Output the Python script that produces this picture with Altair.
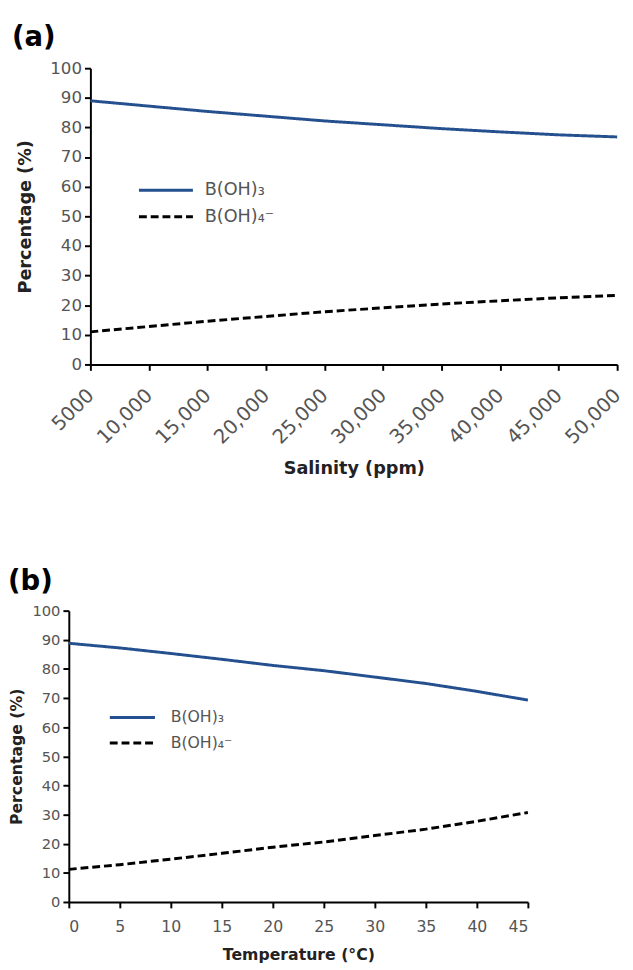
import altair as alt
import pandas as pd

# ---- data ----
salinity = [5000, 10000, 15000, 20000, 25000, 30000, 35000, 40000, 45000, 50000]
boh3_salinity = [89.0, 87.2, 85.4, 83.8, 82.2, 80.9, 79.6, 78.5, 77.5, 76.8]
boh4_salinity = [11.0, 12.8, 14.6, 16.2, 17.8, 19.1, 20.4, 21.5, 22.5, 23.3]

temperature = [0, 5, 10, 15, 20, 25, 30, 35, 40, 45]
boh3_temperature = [88.8, 87.2, 85.3, 83.3, 81.2, 79.4, 77.2, 75.0, 72.3, 69.3]
boh4_temperature = [11.2, 12.8, 14.7, 16.7, 18.8, 20.6, 22.8, 25.0, 27.7, 30.7]

species = ["B(OH)₃", "B(OH)₄⁻"]
y_ticks = list(range(0, 101, 10))

FONT = "DejaVu Sans"
BLUE = "#24508f"
LABEL_GREY = "#555555"
LINE_SYMBOL = "M-2.5,0L2.5,0"


def make_df(xs, s3, s4):
    return pd.DataFrame({
        "x": list(xs) + list(xs),
        "pct": list(s3) + list(s4),
        "species": [species[0]] * len(xs) + [species[1]] * len(xs),
    })


def panel(df, xs, x_title, x_axis_extra, width, height, inset, fs_ylabel, fs_title,
          y_title_pad, x_title_pad, legend_x, legend_y, sym_size, row_pad,
          label_offset, fs_legend, tag, tag_dx):
    legend = alt.Legend(
        title=None, orient="none", legendX=legend_x, legendY=legend_y,
        symbolType=LINE_SYMBOL, symbolSize=sym_size, symbolStrokeWidth=3,
        labelFont=FONT, labelFontSize=fs_legend, labelColor=LABEL_GREY,
        labelOffset=label_offset, rowPadding=row_pad,
    )
    y_axis_extra = {"offset": -inset} if inset else {}
    base = alt.Chart(df).mark_line(strokeWidth=3).encode(
        x=alt.X("x:Q",
                scale=alt.Scale(domain=[xs[0], xs[-1]], nice=False, zero=False,
                                range=[inset, width + inset]),
                axis=alt.Axis(title=x_title, values=xs, titlePadding=x_title_pad,
                              titleFontSize=fs_title, labelOverlap=False,
                              **x_axis_extra)),
        y=alt.Y("pct:Q",
                scale=alt.Scale(domain=[0, 100], nice=False),
                axis=alt.Axis(title="Percentage (%)", values=y_ticks,
                              titlePadding=y_title_pad, titleFontSize=fs_title,
                              labelFontSize=fs_ylabel, **y_axis_extra)),
        color=alt.Color("species:N",
                        scale=alt.Scale(domain=species, range=[BLUE, "black"]),
                        legend=legend),
        strokeDash=alt.StrokeDash("species:N",
                                  scale=alt.Scale(domain=species, range=[[1, 0], [8, 4]]),
                                  legend=legend),
    ).properties(
        width=width + inset, height=height,
        title=alt.TitleParams(text=tag, anchor="start", frame="group", dx=tag_dx,
                              offset=8, fontSize=28, fontWeight="bold",
                              font=FONT, color="black"),
    ).resolve_legend(color="independent", strokeDash="independent")
    return base


chart_a = panel(
    make_df(salinity, boh3_salinity, boh4_salinity), salinity, "Salinity (ppm)",
    dict(labelAngle=-45, labelAlign="right", labelBaseline="middle",
         labelFontSize=20, labelPadding=22,
         labelExpr="datum.value == 5000 ? '5000' : format(datum.value, ',')"),
    537, 302, 22, 17, 18, 16, 13, 86.5, 112, 484, 5, 27, 18, "(a)", -58,
)

chart_b = panel(
    make_df(temperature, boh3_temperature, boh4_temperature), temperature,
    "Temperature (°C)", dict(labelAngle=0, labelFontSize=16, labelPadding=11),
    468, 297, 0, 15, 16, 8, 13, 53.8, 98, 339, 7, 28, 16, "(b)", -62,
)

chart = alt.vconcat(chart_a, chart_b, spacing=92).resolve_legend(
    color="independent", strokeDash="independent"
).properties(
    padding={"left": 0, "top": 7, "right": 0, "bottom": 0}
).configure_view(stroke=None).configure_axis(
    grid=False, domainColor="black", domainWidth=2, tickColor="black",
    tickWidth=2, tickSize=6, labelPadding=3, labelColor=LABEL_GREY,
    labelFont=FONT, titleFont=FONT, titleFontWeight="bold", titleColor="#222222",
)

chart.save("out.html", embed_options={"renderer": "svg", "actions": False})
